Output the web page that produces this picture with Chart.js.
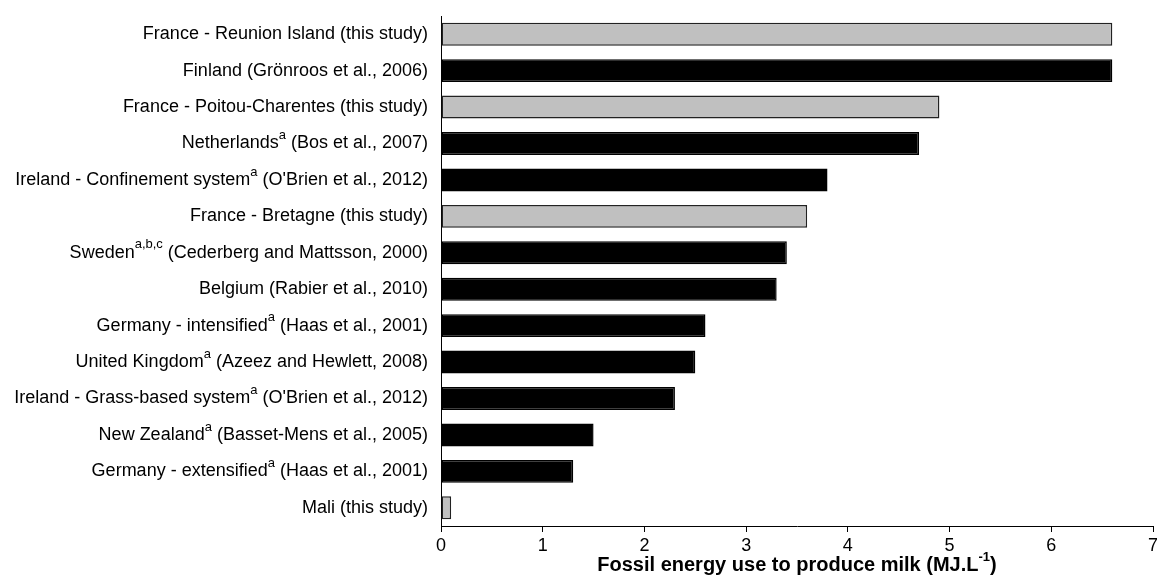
<!DOCTYPE html>
<html>
<head>
<meta charset="utf-8">
<script src="https://cdn.jsdelivr.net/npm/chart.js@4.4.1/dist/chart.umd.min.js"></script>
<style>
  html, body { margin: 0; padding: 0; background: #fff; }
  #wrap { width: 1157px; height: 588px; position: relative; }
</style>
</head>
<body>
<div id="wrap"><canvas id="milkChart"></canvas></div>
<script>
// Data (top row first)
const countries = [
    'France - Reunion Island', 'Finland', 'France - Poitou-Charentes', 'Netherlands',
    'Ireland - Confinement system', 'France - Bretagne', 'Sweden', 'Belgium',
    'Germany - intensified', 'United Kingdom', 'Ireland - Grass-based system',
    'New Zealand', 'Germany - extensified', 'Mali'
];
const notes = ['', '', '', 'a', 'a', '', 'a,b,c', '', 'a', 'a', 'a', 'a', 'a', ''];
const sources = [
    '(this study)', '(Grönroos et al., 2006)', '(this study)', '(Bos et al., 2007)',
    "(O'Brien et al., 2012)", '(this study)', '(Cederberg and Mattsson, 2000)',
    '(Rabier et al., 2010)', '(Haas et al., 2001)', '(Azeez and Hewlett, 2008)',
    "(O'Brien et al., 2012)", '(Basset-Mens et al., 2005)', '(Haas et al., 2001)', '(this study)'
];
const energyUse = [6.6, 6.6, 4.9, 4.7, 3.8, 3.6, 3.4, 3.3, 2.6, 2.5, 2.3, 1.5, 1.3, 0.1];
const thisStudy = [true, false, true, false, false, true, false, false, false, false, false, false, false, true];
const xMin = 0, xMax = 7, xStep = 1;
const axisTitle = 'Fossil energy use to produce milk (MJ.L';
const axisTitleSup = '-1';

const FONT = '"Liberation Sans", Arial, sans-serif';

// Category labels with superscripts, drawn at the y scale's positions
const rowLabels = {
    id: 'rowLabels',
    afterDraw(chart) {
        const ctx = chart.ctx;
        const y = chart.scales.y;
        const x = chart.scales.x;
        ctx.save();
        ctx.fillStyle = '#000';
        ctx.textBaseline = 'middle';
        ctx.textAlign = 'right';
        countries.forEach((name, i) => {
            const py = y.getPixelForValue(i);
            let right = y.right - 13;
            ctx.font = '18px ' + FONT;
            const tail = notes[i] ? ' ' + sources[i] : name + ' ' + sources[i];
            ctx.fillText(tail, right, py);
            if (notes[i]) {
                right -= ctx.measureText(tail).width;
                ctx.font = '13px ' + FONT;
                ctx.fillText(notes[i], right, py - 8);
                right -= ctx.measureText(notes[i]).width;
                ctx.font = '18px ' + FONT;
                ctx.fillText(name, right, py);
            }
        });

        // x axis title
        const cx = (x.left + x.right) / 2;
        const ty = 565;
        const big = 'bold 20px ' + FONT, small = 'bold 13px ' + FONT;
        ctx.font = big;
        const w1 = ctx.measureText(axisTitle).width;
        const w3 = ctx.measureText(')').width;
        ctx.font = small;
        const w2 = ctx.measureText(axisTitleSup).width;
        let left = cx - (w1 + w2 + w3) / 2;
        ctx.textAlign = 'left';
        ctx.font = big;
        ctx.fillText(axisTitle, left, ty);
        left += w1;
        ctx.font = small;
        ctx.fillText(axisTitleSup, left, ty - 8);
        left += w2;
        ctx.font = big;
        ctx.fillText(')', left, ty);
        ctx.restore();
    }
};

const ctx = document.getElementById('milkChart').getContext('2d');
new Chart(ctx, {
    type: 'bar',
    data: {
        labels: countries,
        datasets: [{
            data: energyUse,
            backgroundColor: thisStudy.map(t => t ? '#c0c0c0' : '#000000'),
            borderColor: thisStudy.map(t => t ? '#222222' : '#000000'),
            borderWidth: 1.5,
            borderSkipped: false,
            barPercentage: 0.63,
            categoryPercentage: 1
        }]
    },
    options: {
        indexAxis: 'y',
        responsive: true,
        maintainAspectRatio: false,
        animation: false,
        layout: { padding: { top: 16, right: 4, left: 0, bottom: 0 } },
        plugins: {
            legend: { display: false },
            tooltip: { enabled: false }
        },
        scales: {
            x: {
                min: xMin,
                max: xMax,
                ticks: {
                    stepSize: xStep,
                    color: '#000',
                    padding: 3,
                    font: { family: FONT, size: 18 }
                },
                grid: {
                    drawOnChartArea: false,
                    drawTicks: true,
                    tickLength: 6,
                    color: '#000'
                },
                border: { display: true, color: '#000', width: 1 },
                afterFit(scale) {
                    scale.height = 62;
                    scale.paddingLeft = 0;
                    scale.paddingRight = 0;
                }
            },
            y: {
                ticks: { display: false },
                grid: { display: false },
                border: { display: true, color: '#000', width: 1 },
                afterFit(scale) { scale.width = 441; }
            }
        }
    },
    plugins: [rowLabels]
});
</script>
</body>
</html>
